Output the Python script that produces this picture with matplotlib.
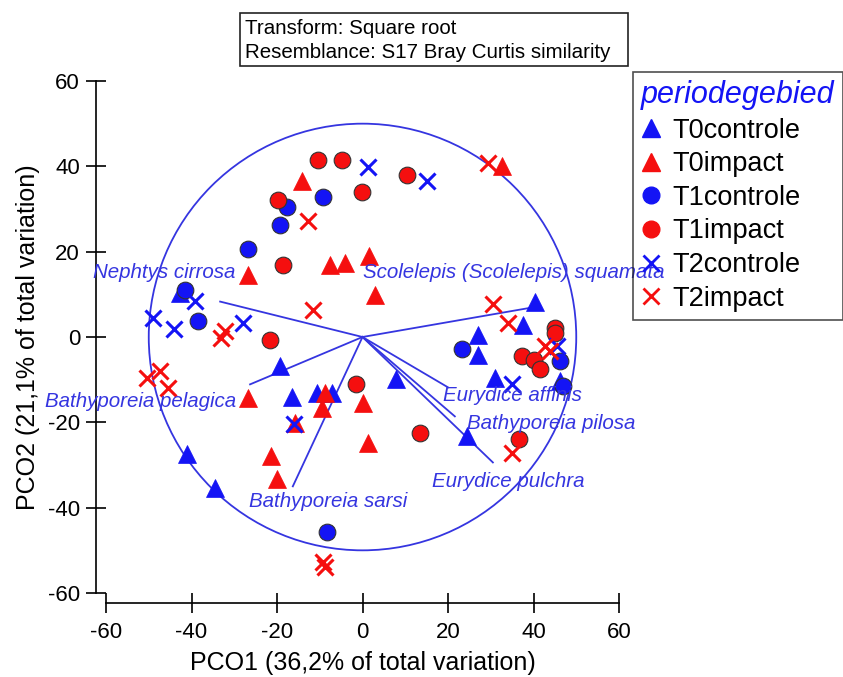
import matplotlib
matplotlib.use("Agg")
import matplotlib.pyplot as plt
from matplotlib.lines import Line2D
from matplotlib.patches import Circle, Rectangle
import numpy as np

plt.rcParams['font.family'] = ['Liberation Sans', 'DejaVu Sans']
plt.rcParams['axes.unicode_minus'] = False

# ---- data ----
groups = ["T0controle", "T0impact", "T1controle", "T1impact", "T2controle", "T2impact"]

t0c_x = [-42.7, -19.3, -16.6, -10.7, -7.2, 7.8, -41.1, -34.5, 24.5, 31.0, 27.1, 27.1, 37.5, 40.4, 46.1]
t0c_y = [10.3, -6.8, -14.0, -13.1, -13.1, -9.8, -27.5, -35.3, -23.3, -9.5, 0.4, -4.3, 2.7, 8.1, -10.3]

t0i_x = [-14.2, -26.7, -7.6, -4.1, 1.6, 2.9, 32.6, -26.9, -8.8, -9.5, 0.2, -15.8, 1.4, -21.4, -20.1]
t0i_y = [36.6, 14.5, 16.8, 17.4, 18.9, 9.9, 40.0, -14.4, -13.1, -16.6, -15.4, -20.2, -24.8, -27.9, -33.2]

t1c_x = [-9.3, -17.6, -19.3, -26.7, -41.5, -38.4, 23.2, 46.2, 46.8, -8.4]
t1c_y = [32.7, 30.5, 26.2, 20.6, 11.1, 3.7, -2.9, -5.7, -11.5, -45.8]

t1i_x = [-10.3, -4.9, 10.3, -0.2, -19.8, -18.7, -21.6, -1.6, 13.5, 36.5, 45.0, 45.0, 37.2, 40.0, 41.5]
t1i_y = [41.5, 41.5, 38.0, 34.1, 32.2, 16.8, -0.6, -11.1, -22.5, -24.0, 2.1, 1.0, -4.5, -5.3, -7.6]

t2c_x = [1.2, 15.0, -39.2, -48.9, -44.1, -27.9, -16.0, 34.9, 45.4]
t2c_y = [39.9, 36.6, 8.4, 4.5, 1.9, 3.3, -20.4, -11.1, -2.0]

t2i_x = [29.4, -12.8, -11.5, -32.2, -33.2, -50.5, -47.4, -45.4, 30.5, 34.1, 42.7, 43.9, 34.9, -9.2, -8.8]
t2i_y = [40.7, 27.3, 6.4, 1.4, -0.2, -9.5, -8.0, -11.9, 7.8, 3.3, -2.2, -3.3, -27.1, -52.7, -54.0]

species = ["Nephtys cirrosa", "Scolelepis (Scolelepis) squamata", "Bathyporeia pelagica",
           "Bathyporeia sarsi", "Eurydice affinis", "Bathyporeia pilosa", "Eurydice pulchra"]
vec_x = [-33.3, 39.6, -26.3, -16.3, 20.0, 21.6, 30.5]
vec_y = [8.3, 6.9, -11.1, -35.0, -11.8, -18.6, -29.4]
lab_x = [-29.8, 0.0, -29.6, -26.5, 18.8, 24.4, 16.3]
lab_y = [15.1, 15.1, -15.1, -38.5, -13.7, -20.2, -33.8]
lab_ha = ["right", "left", "right", "left", "left", "left", "left"]

circle_r = 50
ticks = [-60, -40, -20, 0, 20, 40, 60]

# ---- styling ----
BLUE = '#1414f5'
RED = '#f50f0f'
VEC = '#3535e0'

fig = plt.figure(figsize=(8.43, 6.77), dpi=100)
ax = fig.add_axes([106/843, 1-593/677, 513/843, 512/677])
ax.set_xlim(-60, 60)
ax.set_ylim(-60, 60)

ax.add_patch(Circle((0, 0), circle_r, fill=False, edgecolor=VEC, lw=1.3, zorder=1))
for vx, vy in zip(vec_x, vec_y):
    ax.plot([0, vx], [0, vy], color=VEC, lw=1.3, zorder=1)
for s, lx, ly, ha in zip(species, lab_x, lab_y, lab_ha):
    ax.text(lx, ly, s, color=VEC, fontsize=14.8, style='italic', ha=ha, va='center',
            clip_on=False, zorder=5)

tri_ms = 13
circ_ms = 12
x_ms = 11
ax.plot(t0c_x, t0c_y, '^', color=BLUE, ms=tri_ms, mec=BLUE, mew=0.5, ls='none', zorder=3, clip_on=False)
ax.plot(t0i_x, t0i_y, '^', color=RED, ms=tri_ms, mec=RED, mew=0.5, ls='none', zorder=3, clip_on=False)
ax.plot(t1c_x, t1c_y, 'o', color=BLUE, ms=circ_ms, mec='#333333', mew=0.8, ls='none', zorder=3, clip_on=False)
ax.plot(t1i_x, t1i_y, 'o', color=RED, ms=circ_ms, mec='#333333', mew=0.8, ls='none', zorder=3, clip_on=False)
ax.plot(t2c_x, t2c_y, 'x', color=BLUE, ms=x_ms, mew=2.2, ls='none', zorder=4, clip_on=False)
ax.plot(t2i_x, t2i_y, 'x', color=RED, ms=x_ms, mew=2.2, ls='none', zorder=4, clip_on=False)

for sp in ['top', 'right']:
    ax.spines[sp].set_visible(False)
for sp in ['left', 'bottom']:
    ax.spines[sp].set_position(('outward', 7.2))
    ax.spines[sp].set_linewidth(1.2)
ax.set_xticks(ticks)
ax.set_yticks(ticks)
ax.tick_params(direction='inout', length=15, width=1.2, labelsize=16)
ax.tick_params(axis='x', pad=6)
ax.tick_params(axis='y', pad=4)
ax.set_xlabel("PCO1 (36,2% of total variation)", fontsize=18, labelpad=6)
ax.set_ylabel("PCO2 (21,1% of total variation)", fontsize=18, labelpad=6)

# legend
handles = [
    Line2D([], [], marker='^', color=BLUE, ls='none', ms=13),
    Line2D([], [], marker='^', color=RED, ls='none', ms=13),
    Line2D([], [], marker='o', color=BLUE, ls='none', ms=12, mec=BLUE),
    Line2D([], [], marker='o', color=RED, ls='none', ms=12, mec=RED),
    Line2D([], [], marker='x', color=BLUE, ls='none', ms=11, mew=2),
    Line2D([], [], marker='x', color=RED, ls='none', ms=11, mew=2),
]
leg = fig.legend(handles, groups, loc='upper left', bbox_to_anchor=(633/843, 1-72/677),
                 bbox_transform=fig.transFigure, frameon=True, fancybox=False,
                 edgecolor='#222222', facecolor='none', framealpha=None,
                 fontsize=19.5, title='periodegebied',
                 title_fontproperties={'size': 22, 'style': 'italic'},
                 alignment='left', handlelength=0.72, handletextpad=0.42,
                 labelspacing=0.28, borderpad=0.3, borderaxespad=0)
leg.get_title().set_color(BLUE)
leg.get_frame().set_linewidth(1.2)

# top info box
fig.patches.append(Rectangle((240/843, 1-66/677), 388/843, 53/677, transform=fig.transFigure,
                             fill=False, edgecolor='#222222', lw=1.2))
fig.text(245/843, 1-28/677, "Transform: Square root", fontsize=14.8, va='center', ha='left')
fig.text(245/843, 1-52/677, "Resemblance: S17 Bray Curtis similarity", fontsize=14.8, va='center', ha='left')

fig.savefig("out.png", dpi=100)
